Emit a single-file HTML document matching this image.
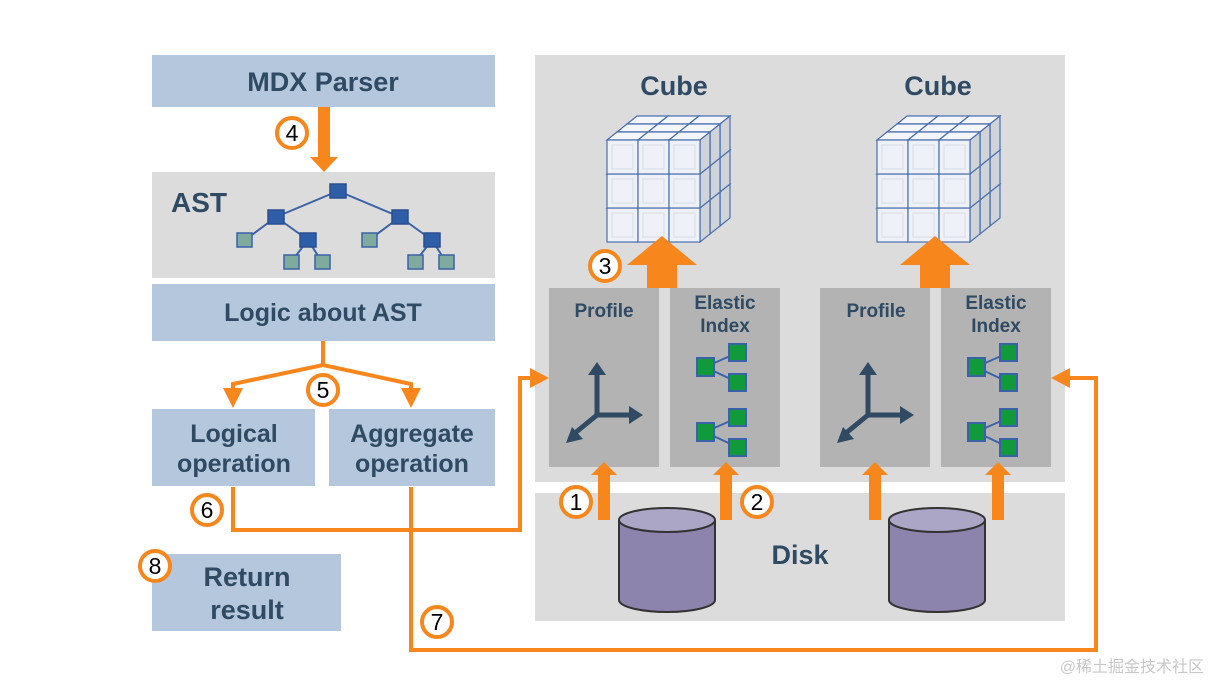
<!DOCTYPE html>
<html><head><meta charset="utf-8"><style>
html,body{margin:0;padding:0;background:#fff;}
svg{display:block;}
text{font-family:"Liberation Sans",Arial,sans-serif;font-weight:bold;fill:#2f4a62;}
.n{font-weight:normal;fill:#000;}
</style></head><body>
<svg width="1210" height="683" viewBox="0 0 1210 683" xmlns="http://www.w3.org/2000/svg">
<defs>
<g id="cell">
<polygon points="0,0 10,-8 41,-8 31,0" fill="#f4f6fa" stroke="#4a6fb0" stroke-width="1.2"/>
<polygon points="31,0 41,-8 41,26 31,34" fill="#d0d3d8" stroke="#4a6fb0" stroke-width="1.2"/>
<rect x="0" y="0" width="31" height="34" fill="#eef2f8" stroke="#4a6fb0" stroke-width="1.2"/>
<rect x="5" y="5" width="21" height="24" fill="none" stroke="#d5dbe4" stroke-width="1"/>
</g>
<g id="layer">
<use href="#cell" x="0" y="68"/><use href="#cell" x="31" y="68"/><use href="#cell" x="62" y="68"/>
<use href="#cell" x="0" y="34"/><use href="#cell" x="31" y="34"/><use href="#cell" x="62" y="34"/>
<use href="#cell" x="0" y="0"/><use href="#cell" x="31" y="0"/><use href="#cell" x="62" y="0"/>
</g>
<g id="cube">
<use href="#layer" x="20" y="-16"/><use href="#layer" x="10" y="-8"/><use href="#layer" x="0" y="0"/>
</g>
<g id="axes" fill="#2f4a62" stroke="#2f4a62">
<line x1="0" y1="0" x2="0" y2="-42" stroke-width="5"/>
<polygon points="-9,-40 9,-40 0,-53" stroke="none"/>
<line x1="0" y1="0" x2="34" y2="0" stroke-width="5"/>
<polygon points="32,-9 32,9 46,0" stroke="none"/>
<line x1="0" y1="0" x2="-22" y2="18" stroke-width="5"/>
<polygon points="-31,28 -14,24 -25,12" stroke="none"/>
</g>
<g id="tree" stroke="#3b62a8" stroke-width="2">
<line x1="8" y1="9" x2="40" y2="-5"/><line x1="8" y1="9" x2="40" y2="24"/>
<rect x="0" y="0" width="17" height="18" fill="#109a3c"/>
<rect x="32" y="-14" width="17" height="17" fill="#109a3c"/>
<rect x="32" y="16" width="17" height="17" fill="#109a3c"/>
</g>
<g id="cyl">
<path d="M-48,0 L-48,80 A48,12 0 0 0 48,80 L48,0" fill="#8c84ac" stroke="#333" stroke-width="2"/>
<ellipse cx="0" cy="0" rx="48" ry="12" fill="#aca6c6" stroke="#333" stroke-width="2"/>
</g>
<g id="up" fill="#f7861d"><rect x="-6" y="12" width="12" height="46"/><polygon points="-13,13 13,13 0,0"/></g>
<g id="big" fill="#f7861d"><rect x="-15" y="28" width="30" height="24"/><polygon points="-35,29 35,29 0,0"/></g>
</defs>

<rect x="152" y="55" width="343" height="52" fill="#b4c7dc"/>
<text x="323" y="91" font-size="27" text-anchor="middle">MDX Parser</text>
<rect x="152" y="172" width="343" height="106" fill="#dcdcdc"/>
<text x="171" y="212" font-size="28">AST</text>
<g stroke="#3b62a8" stroke-width="2">
<line x1="338" y1="191" x2="276" y2="217"/><line x1="338" y1="191" x2="400" y2="217"/>
<line x1="276" y1="217" x2="245" y2="240"/><line x1="276" y1="217" x2="308" y2="240"/>
<line x1="400" y1="217" x2="369" y2="240"/><line x1="400" y1="217" x2="432" y2="240"/>
<line x1="308" y1="240" x2="291" y2="262"/><line x1="308" y1="240" x2="322" y2="262"/>
<line x1="432" y1="240" x2="415" y2="262"/><line x1="432" y1="240" x2="446" y2="262"/>
</g>
<g fill="#2e5ea8" stroke="#2b4f8e" stroke-width="1.5">
<rect x="330" y="184" width="16" height="14"/><rect x="268" y="210" width="16" height="14"/><rect x="392" y="210" width="16" height="14"/>
<rect x="300" y="233" width="16" height="14"/><rect x="424" y="233" width="16" height="14"/>
</g>
<g fill="#7fab9f" stroke="#3b62a8" stroke-width="1.5">
<rect x="237" y="233" width="15" height="14"/><rect x="362" y="233" width="15" height="14"/>
<rect x="284" y="255" width="15" height="14"/><rect x="315" y="255" width="15" height="14"/>
<rect x="408" y="255" width="15" height="14"/><rect x="439" y="255" width="15" height="14"/>
</g>
<rect x="152" y="284" width="343" height="57" fill="#b4c7dc"/>
<text x="323" y="321" font-size="25" text-anchor="middle">Logic about AST</text>
<rect x="152" y="409" width="163" height="77" fill="#b4c7dc"/>
<text x="234" y="442" font-size="25" text-anchor="middle">Logical</text>
<text x="234" y="472" font-size="25" text-anchor="middle">operation</text>
<rect x="329" y="409" width="166" height="77" fill="#b4c7dc"/>
<text x="412" y="442" font-size="25" text-anchor="middle">Aggregate</text>
<text x="412" y="472" font-size="25" text-anchor="middle">operation</text>
<rect x="152" y="554" width="189" height="77" fill="#b4c7dc"/>
<text x="247" y="586" font-size="27" text-anchor="middle">Return</text>
<text x="247" y="619" font-size="27" text-anchor="middle">result</text>

<rect x="535" y="55" width="530" height="427" fill="#dcdcdc"/>
<rect x="535" y="493" width="530" height="128" fill="#dcdcdc"/>
<text x="674" y="95" font-size="27" text-anchor="middle">Cube</text>
<text x="938" y="95" font-size="27" text-anchor="middle">Cube</text>
<use href="#cube" x="607" y="140"/>
<use href="#cube" x="877" y="140"/>
<rect x="549" y="288" width="110" height="179" fill="#b3b3b3"/>
<rect x="670" y="288" width="110" height="179" fill="#b3b3b3"/>
<rect x="820" y="288" width="110" height="179" fill="#b3b3b3"/>
<rect x="941" y="288" width="110" height="179" fill="#b3b3b3"/>
<text x="604" y="317" font-size="19" text-anchor="middle">Profile</text>
<text x="725" y="309" font-size="19" text-anchor="middle">Elastic</text>
<text x="725" y="332" font-size="19" text-anchor="middle">Index</text>
<text x="876" y="317" font-size="19" text-anchor="middle">Profile</text>
<text x="996" y="309" font-size="19" text-anchor="middle">Elastic</text>
<text x="996" y="332" font-size="19" text-anchor="middle">Index</text>
<use href="#axes" x="597" y="415"/>
<use href="#axes" x="868" y="415"/>
<use href="#tree" x="697" y="358"/><use href="#tree" x="697" y="423"/>
<use href="#tree" x="968" y="358"/><use href="#tree" x="968" y="423"/>
<text x="800" y="564" font-size="27" text-anchor="middle">Disk</text>
<use href="#cyl" x="667" y="520"/>
<use href="#cyl" x="937" y="520"/>
<use href="#up" x="604" y="462"/><use href="#up" x="726" y="462"/>
<use href="#up" x="875" y="462"/><use href="#up" x="998" y="462"/>
<use href="#big" x="662" y="236"/><use href="#big" x="935" y="236"/>

<g fill="#f7861d">
<rect x="318" y="107" width="12" height="52"/><polygon points="310,157 338,157 324,172"/>
</g>
<g fill="none" stroke="#f7861d" stroke-width="4" stroke-linejoin="miter">
<polyline points="323,341 323,365"/>
<polyline points="233,391 233,384 323,365 411,384 411,391"/>
<polyline points="233,487 233,530 520,530 520,378 532,378"/>
<polyline points="411,487 411,650 1096,650 1096,378 1066,378"/>
</g>
<g fill="#f7861d">
<polygon points="223,388 243,388 233,408"/>
<polygon points="401,388 421,388 411,408"/>
<polygon points="530,368 530,388 549,378"/>
<polygon points="1070,368 1070,388 1051,378"/>
</g>
<g fill="#fff" stroke="#f7861d" stroke-width="4">
<circle cx="292" cy="133" r="15"/><circle cx="323" cy="390" r="15"/>
<circle cx="207" cy="510" r="15"/><circle cx="437" cy="622" r="15"/>
<circle cx="155" cy="566" r="15"/><circle cx="576" cy="502" r="15"/>
<circle cx="757" cy="502" r="15"/><circle cx="605" cy="266" r="15"/>
</g>
<g font-size="23" text-anchor="middle">
<text class="n" x="292" y="141">4</text><text class="n" x="323" y="398">5</text>
<text class="n" x="207" y="518">6</text><text class="n" x="437" y="630">7</text>
<text class="n" x="155" y="574">8</text><text class="n" x="576" y="510">1</text>
<text class="n" x="757" y="510">2</text><text class="n" x="605" y="274">3</text>
</g>
<text x="1204" y="672" font-size="16" text-anchor="end" style="font-weight:normal;fill:#c8c8c8;font-family:'Liberation Sans','Noto Sans CJK SC',sans-serif">@稀土掘金技术社区</text>
</svg>
</body></html>
